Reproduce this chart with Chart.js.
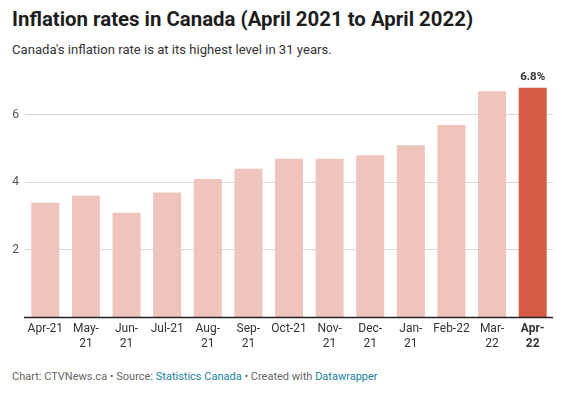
<!DOCTYPE html>
<html>
<head>
<meta charset="utf-8">
<script src="https://cdn.jsdelivr.net/npm/chart.js@4"></script>
<style>
  html, body { margin:0; padding:0; background:#fff; }
  body { width:562px; height:395px; position:relative; overflow:hidden; font-family: Roboto, "Noto Sans", sans-serif; }
  #title { position:absolute; left:12px; top:7px; font-size:20.4px; font-weight:700; color:#1d1d1d; white-space:nowrap; }
  #sub { position:absolute; left:12px; top:42px; font-size:13.1px; color:#333; white-space:nowrap; }
  #foot { position:absolute; left:12px; top:370px; font-size:11px; color:#666; white-space:nowrap; }
  #foot a { color:#1a7fa0; text-decoration:none; }
  #wrap { position:absolute; left:0; top:60px; width:562px; height:300px; }
</style>
</head>
<body>
<div id="title">Inflation rates in Canada (April 2021 to April 2022)</div>
<div id="sub">Canada's inflation rate is at its highest level in 31 years.</div>
<div id="wrap"><canvas id="c"></canvas></div>
<div id="foot">Chart: CTVNews.ca • Source: <a>Statistics Canada</a> • Created with <a>Datawrapper</a></div>
<script>
const categories = ["Apr-21","May-21","Jun-21","Jul-21","Aug-21","Sep-21","Oct-21","Nov-21","Dec-21","Jan-21","Feb-22","Mar-22","Apr-22"];
const tickLabels = [["Apr-21"],["May-","21"],["Jun-","21"],["Jul-21"],["Aug-","21"],["Sep-","21"],["Oct-21"],["Nov-","21"],["Dec-","21"],["Jan-","21"],["Feb-22"],["Mar-","22"],["Apr-","22"]];
const inflation = [3.4, 3.6, 3.1, 3.7, 4.1, 4.4, 4.7, 4.7, 4.8, 5.1, 5.7, 6.7, 6.8];
const yTicks = [2, 4, 6];

const light = "#efc4bc", dark = "#d55b45";
const colors = inflation.map((v,i) => i === inflation.length-1 ? dark : light);

const lastLabel = {
  id: 'lastLabel',
  afterDatasetsDraw(chart) {
    const meta = chart.getDatasetMeta(0);
    const i = inflation.length - 1;
    const bar = meta.data[i];
    const ctx = chart.ctx;
    ctx.save();
    ctx.font = "700 11.5px Roboto";
    ctx.fillStyle = "#333";
    ctx.textAlign = "center";
    ctx.textBaseline = "bottom";
    ctx.fillText(inflation[i].toFixed(1) + "%", bar.x, bar.y - 5);
    ctx.restore();
  }
};

const baseline = {
  id: 'baseline',
  afterDatasetsDraw(chart) {
    const {ctx, chartArea} = chart;
    const y = chart.scales.y.getPixelForValue(0);
    ctx.save();
    ctx.strokeStyle = "#222";
    ctx.lineWidth = 1.5;
    ctx.beginPath();
    ctx.moveTo(chartArea.left - 1, y);
    ctx.lineTo(chartArea.right, y);
    ctx.stroke();
    ctx.restore();
  }
};

new Chart(document.getElementById('c'), {
  type: 'bar',
  data: {
    labels: tickLabels,
    datasets: [{
      data: inflation,
      backgroundColor: colors,
      borderWidth: 0,
      categoryPercentage: 1,
      barPercentage: 0.69
    }]
  },
  options: {
    responsive: true,
    maintainAspectRatio: false,
    animation: false,
    layout: { padding: { top: 21, right: 9, left: 0, bottom: 0 } },
    plugins: { legend: { display: false }, tooltip: { enabled: false } },
    scales: {
      x: {
        grid: { display: false, drawTicks: false },
        border: { display: false },
        ticks: {
          padding: 4,
          maxRotation: 0,
          autoSkip: false,
          color: "#333",
          font: (ctx) => ({ family: "Roboto", size: 12, weight: ctx.index === inflation.length-1 ? '700' : '400', lineHeight: 1.25 })
        },
        afterFit(s) { s.height = 42.5; }
      },
      y: {
        min: 0, max: 7,
        afterBuildTicks(s) { s.ticks = yTicks.map(v => ({ value: v })); },
        grid: { color: "#d9d9d9", lineWidth: 1, drawTicks: false },
        border: { display: false },
        ticks: { padding: 6, color: "#555", font: { family: "Roboto", size: 12 } },
        afterFit(s) { s.width = 25; }
      }
    }
  },
  plugins: [lastLabel, baseline]
});
</script>
</body>
</html>
